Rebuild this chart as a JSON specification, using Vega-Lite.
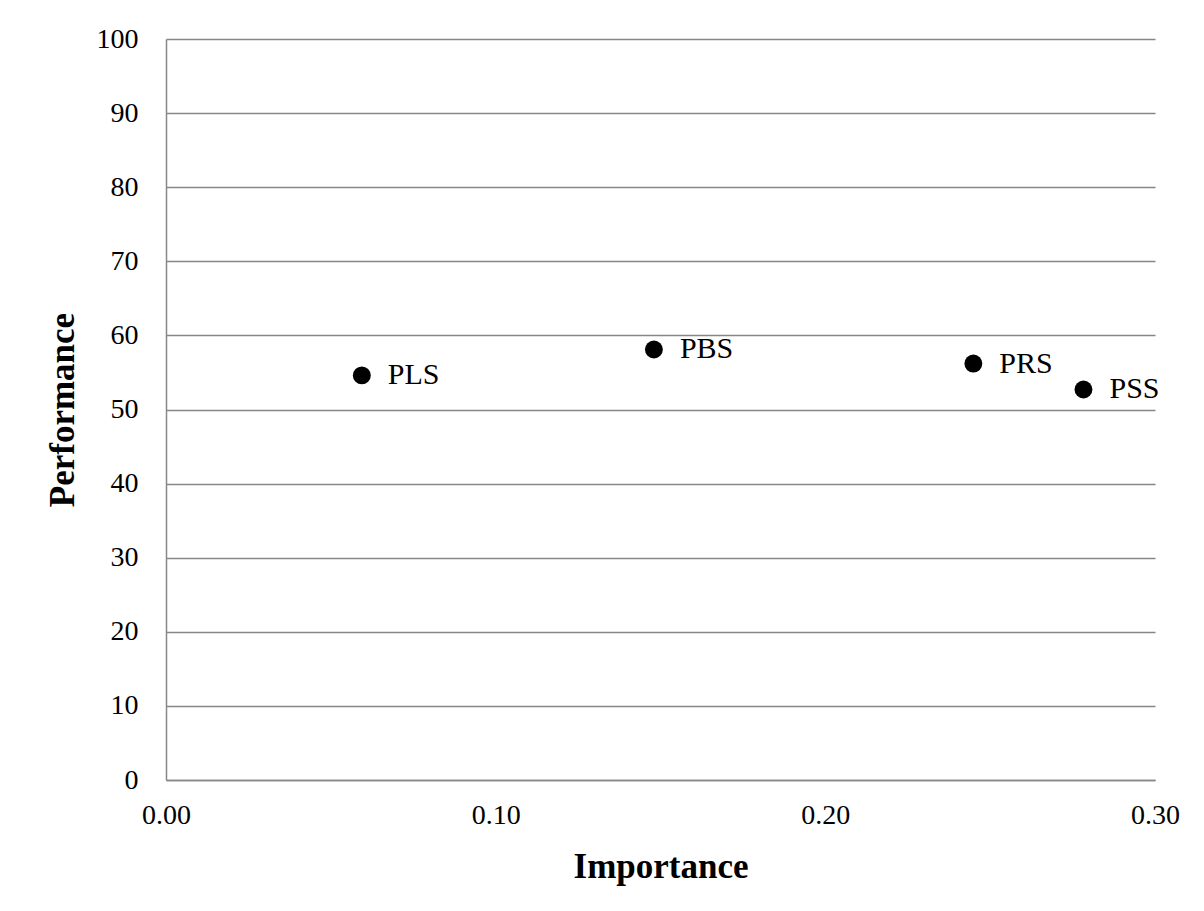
{
  "$schema": "https://vega.github.io/schema/vega-lite/v6.json",
  "autosize": "none",
  "width": 989,
  "height": 741,
  "padding": {"left": 166, "top": 39, "right": 49, "bottom": 131},
  "background": "white",
  "data": {
    "values": [
      {"name": "PLS", "importance": 0.0594, "performance": 54.6},
      {"name": "PBS", "importance": 0.148, "performance": 58.1},
      {"name": "PRS", "importance": 0.2449, "performance": 56.2},
      {"name": "PSS", "importance": 0.2783, "performance": 52.7}
    ]
  },
  "encoding": {
    "x": {
      "field": "importance",
      "type": "quantitative",
      "scale": {"domain": [0, 0.3], "nice": false, "zero": true},
      "axis": {
        "title": "Importance",
        "values": [0, 0.1, 0.2, 0.3],
        "format": ".2f",
        "grid": false,
        "ticks": false,
        "labelFlush": false,
        "labelOverlap": false,
        "labelPadding": 21,
        "titlePadding": 20
      }
    },
    "y": {
      "field": "performance",
      "type": "quantitative",
      "scale": {"domain": [0, 100], "nice": false},
      "axis": {
        "title": "Performance",
        "values": [0, 10, 20, 30, 40, 50, 60, 70, 80, 90, 100],
        "grid": true,
        "ticks": false,
        "labelFlush": false,
        "labelOverlap": false,
        "labelPadding": 28,
        "titlePadding": 16
      }
    }
  },
  "layer": [
    {
      "mark": {"type": "circle", "size": 320, "color": "black", "opacity": 1}
    },
    {
      "mark": {"type": "text", "align": "left", "baseline": "middle", "dx": 26, "font": "Liberation Serif", "fontSize": 30, "color": "black"},
      "encoding": {"text": {"field": "name", "type": "nominal"}}
    }
  ],
  "config": {
    "view": {"stroke": null},
    "axis": {
      "labelFont": "Liberation Serif",
      "labelFontSize": 28,
      "labelColor": "black",
      "titleFont": "Liberation Serif",
      "titleFontSize": 35,
      "titleFontWeight": "bold",
      "titleColor": "black",
      "domainColor": "#878787",
      "domainWidth": 1.5,
      "gridColor": "#878787",
      "gridWidth": 1.5,
      "gridOpacity": 1
    }
  }
}
